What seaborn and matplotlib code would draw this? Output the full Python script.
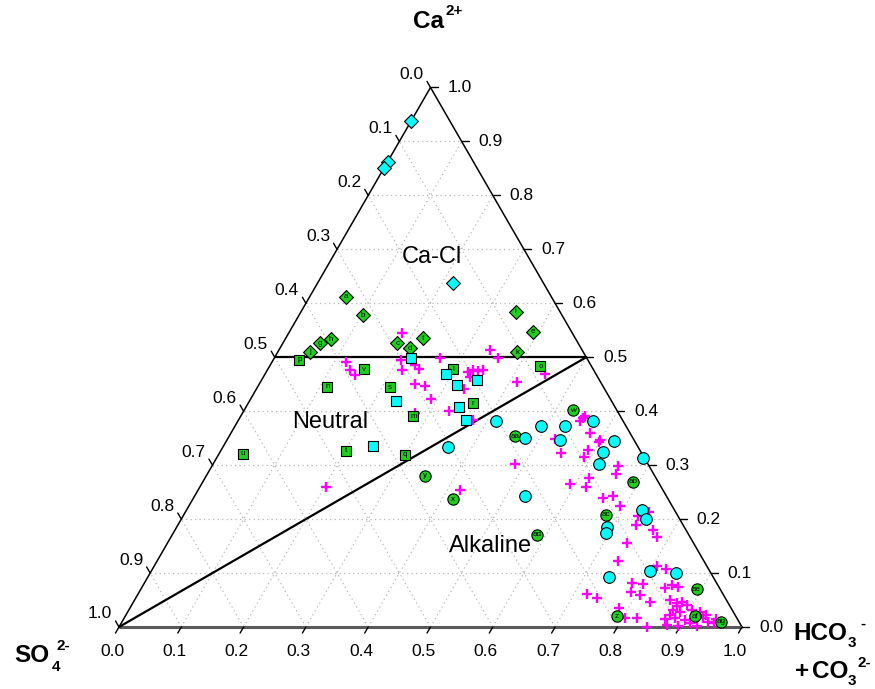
import numpy as np
import pandas as pd
import matplotlib
matplotlib.use("Agg")
import matplotlib.pyplot as plt
import seaborn as sns

# ---------------------------------------------------------------------------
# Data: fractions of Ca2+ and HCO3- + CO3 2- (SO4 2- is the remainder)
# ---------------------------------------------------------------------------
grn_dia_lab = list("abcdefghijk")
grn_dia_ca = [0.612, 0.578, 0.526, 0.517, 0.547, 0.535, 0.526, 0.533, 0.584, 0.510, 0.509]
grn_dia_hc = [0.058, 0.102, 0.184, 0.208, 0.391, 0.220, 0.059, 0.074, 0.345, 0.051, 0.385]

grn_sq_lab = list("lmnopqrstuv")
grn_sq_ca = [0.478, 0.391, 0.445, 0.483, 0.495, 0.319, 0.415, 0.444, 0.327, 0.321, 0.478]
grn_sq_hc = [0.297, 0.277, 0.112, 0.435, 0.042, 0.300, 0.360, 0.213, 0.201, 0.038, 0.155]

grn_ci_lab = ["w", "x", "y", "z", "aa", "ab", "ac", "ad", "ae", "af", "ag"]
grn_ci_ca = [0.402, 0.237, 0.280, 0.020, 0.354, 0.269, 0.208, 0.171, 0.070, 0.020, 0.010]
grn_ci_hc = [0.527, 0.417, 0.351, 0.789, 0.459, 0.691, 0.677, 0.586, 0.892, 0.914, 0.961]

cy_dia_ca = [0.937, 0.862, 0.850, 0.637]
cy_dia_hc = [0.001, 0.001, 0.000, 0.217]

cy_sq_ca = [0.498, 0.469, 0.458, 0.449, 0.418, 0.407, 0.384, 0.336]
cy_sq_hc = [0.219, 0.291, 0.345, 0.318, 0.236, 0.342, 0.365, 0.240]

cy_ci_ca = [0.382, 0.351, 0.333, 0.373, 0.373, 0.382, 0.347, 0.325, 0.344, 0.302,
            0.313, 0.242, 0.217, 0.200, 0.186, 0.174, 0.092, 0.103, 0.100]
cy_ci_hc = [0.414, 0.476, 0.361, 0.491, 0.529, 0.570, 0.535, 0.614, 0.623, 0.620,
            0.684, 0.531, 0.731, 0.746, 0.690, 0.695, 0.741, 0.801, 0.844]

plus_ca = [0.544, 0.492, 0.476, 0.467, 0.494, 0.476, 0.486, 0.478, 0.498, 0.450,
           0.447, 0.422, 0.396, 0.400, 0.384, 0.442, 0.455, 0.513, 0.498, 0.473,
           0.476, 0.475, 0.476, 0.464, 0.469, 0.260, 0.253, 0.302,
           0.387, 0.391, 0.381, 0.359, 0.347, 0.342, 0.328, 0.316, 0.322, 0.348,
           0.298, 0.284, 0.276, 0.260, 0.265, 0.240, 0.243, 0.224, 0.214, 0.205,
           0.189, 0.179, 0.167, 0.155, 0.123, 0.113, 0.107, 0.082, 0.079, 0.064,
           0.059, 0.047, 0.061, 0.053, 0.072, 0.078, 0.075, 0.035, 0.016, 0.016,
           0.000,
           0.050, 0.044, 0.047, 0.041, 0.032, 0.028, 0.032, 0.028, 0.014, 0.016,
           0.013, 0.007, 0.016, 0.010, 0.007, 0.022, 0.004, 0.002, 0.002, 0.022,
           0.038, 0.014]
plus_hc = [0.183, 0.119, 0.133, 0.145, 0.205, 0.217, 0.232, 0.243, 0.266, 0.250,
           0.267, 0.290, 0.277, 0.330, 0.376, 0.332, 0.411, 0.339, 0.360, 0.324,
           0.331, 0.339, 0.347, 0.331, 0.449, 0.203, 0.421, 0.485,
           0.552, 0.553, 0.550, 0.577, 0.599, 0.600, 0.589, 0.589, 0.548, 0.526,
           0.652, 0.656, 0.616, 0.620, 0.591, 0.657, 0.671, 0.692, 0.744, 0.731,
           0.735, 0.768, 0.780, 0.738, 0.740, 0.807, 0.825, 0.782, 0.802, 0.790,
           0.807, 0.829, 0.720, 0.741, 0.841, 0.848, 0.860, 0.785, 0.804, 0.824,
           0.848,
           0.859, 0.873, 0.880, 0.891, 0.874, 0.886, 0.904, 0.918, 0.869, 0.884,
           0.902, 0.913, 0.930, 0.941, 0.951, 0.932, 0.877, 0.897, 0.926, 0.873,
           0.876, 0.952]

tick_vals = [round(0.1 * i, 1) for i in range(11)]
tick_text = [f"{v:.1f}" for v in tick_vals]

# ---------------------------------------------------------------------------
sns.set_theme(style="white")
plt.rcParams["font.family"] = ["Liberation Sans", "DejaVu Sans"]
plt.rcParams["text.color"] = "black"

H = np.sqrt(3) / 2
PX = 623.0          # pixels per unit side length
X0, Y0 = 119, 627   # pixel position of the SO4 corner


def to_xy(ca, hc):
    ca = np.asarray(ca, dtype=float)
    hc = np.asarray(hc, dtype=float)
    return hc + ca / 2, ca * H


def frame(ca, hc, lab=None):
    x, y = to_xy(ca, hc)
    d = pd.DataFrame({"x": x, "y": y})
    if lab is not None:
        d["lab"] = lab
    return d


def px(xp, yp):
    """figure pixel position -> data coordinates"""
    return (xp - X0) / PX, (Y0 - yp) / PX


fig = plt.figure(figsize=(8.75, 6.89), dpi=100)
ax = fig.add_axes([0, 0, 1, 1])
ax.set_xlim(-X0 / PX, (875 - X0) / PX)
ax.set_ylim(-(689 - Y0) / PX, Y0 / PX)
ax.axis("off")

# dotted grid
gkw = dict(color="#b8b8b8", lw=0.9, ls=(0, (1, 2.6)), zorder=1)
for v in tick_vals[1:-1]:
    ax.plot([v / 2, 1 - v / 2], [v * H, v * H], **gkw)                 # constant Ca
    ax.plot([v, v + (1 - v) / 2], [0, (1 - v) * H], **gkw)             # constant HCO3
    ax.plot([1 - v, (1 - v) / 2], [0, (1 - v) * H], **gkw)             # constant SO4

# triangle edges
ax.plot([0, 0.5], [0, H], color="black", lw=1.1, zorder=2)
ax.plot([1, 0.5], [0, H], color="black", lw=1.1, zorder=2)
ax.plot([0, 1], [0, 0], color="#5a5a5a", lw=2.2, zorder=2, solid_capstyle="butt")

# field boundaries
ax.plot([0.25, 0.75], [0.5 * H, 0.5 * H], color="black", lw=1.6, zorder=2)
ax.plot([0, 0.75], [0, 0.5 * H], color="black", lw=1.6, zorder=2)

# ticks and tick labels
L = 7 / PX
fs_tick = 12.5
for v, t in zip(tick_vals, tick_text):
    # bottom axis (HCO3 + CO3)
    ax.plot([v, v - 0.5 * L], [0, -H * L], color="black", lw=1.0, zorder=2)
    ax.text(v - 7 / PX, -24 / PX, t, ha="center", va="center", fontsize=fs_tick)
    # right axis (Ca)
    xr, yr = 1 - v / 2, v * H
    ax.plot([xr, xr + L], [yr, yr], color="black", lw=1.0, zorder=2)
    ax.text(xr + 29 / PX, yr, t, ha="center", va="center", fontsize=fs_tick)
    # left axis (SO4)
    xl, yl = (1 - v) / 2, (1 - v) * H
    ax.plot([xl, xl - 0.5 * L], [yl, yl + H * L], color="black", lw=1.0, zorder=2)
    ax.text(xl - 19 / PX, yl + 13 / PX, t, ha="center", va="center", fontsize=fs_tick)

# samples
mk = dict(edgecolor="black", linewidth=0.8, legend=False, ax=ax, zorder=3)
green = "#1ecf1e"
cyan = "#00ffff"

sns.scatterplot(data=frame(plus_ca, plus_hc), x="x", y="y", marker="+",
                color="#ff00ff", s=55, linewidth=1.7, legend=False, ax=ax, zorder=3)

d_gd = frame(grn_dia_ca, grn_dia_hc, grn_dia_lab)
d_gs = frame(grn_sq_ca, grn_sq_hc, grn_sq_lab)
d_gc = frame(grn_ci_ca, grn_ci_hc, grn_ci_lab)
sns.scatterplot(data=d_gd, x="x", y="y", marker="D", color=green, s=50, **mk)
sns.scatterplot(data=d_gs, x="x", y="y", marker="s", color=green, s=54, **mk)
sns.scatterplot(data=d_gc, x="x", y="y", marker="o", color=green, s=66, **mk)
for d in (d_gd, d_gs, d_gc):
    for _, r in d.iterrows():
        ax.text(r.x, r.y, r.lab, ha="center", va="center", fontsize=5.8,
                color="black", zorder=4)

sns.scatterplot(data=frame(cy_dia_ca, cy_dia_hc), x="x", y="y", marker="D",
                color=cyan, s=50, **mk)
sns.scatterplot(data=frame(cy_sq_ca, cy_sq_hc), x="x", y="y", marker="s",
                color=cyan, s=58, **mk)
sns.scatterplot(data=frame(cy_ci_ca, cy_ci_hc), x="x", y="y", marker="o",
                color=cyan, s=70, **mk)

# field names
ax.text(*px(432, 257), "Ca-Cl", ha="center", va="center", fontsize=17)
ax.text(*px(330, 422), "Neutral", ha="center", va="center", fontsize=17)
ax.text(*px(491, 546), "Alkaline", ha="center", va="center", fontsize=17)

# component names, built from main text plus sub/superscripts
big = dict(fontsize=17.5, fontweight="bold", va="center", ha="left")
small = dict(fontsize=11, fontweight="bold", va="center", ha="left")

ax.text(*px(413, 21), "Ca", **big)
ax.text(*px(445, 11), "2+", **small)

ax.text(*px(14, 656), "SO", **big)
ax.text(*px(52, 667), "4", **small)
ax.text(*px(57, 646), "2-", **small)

ax.text(*px(793, 633), "HCO", **big)
ax.text(*px(848, 643), "3", **small)
ax.text(*px(860, 624), "-", **small)

ax.text(*px(795, 672), "+", **big)
ax.text(*px(812, 672), "CO", **big)
ax.text(*px(848, 681), "3", **small)
ax.text(*px(858, 663), "2-", **small)

fig.savefig("out.png", dpi=100)
